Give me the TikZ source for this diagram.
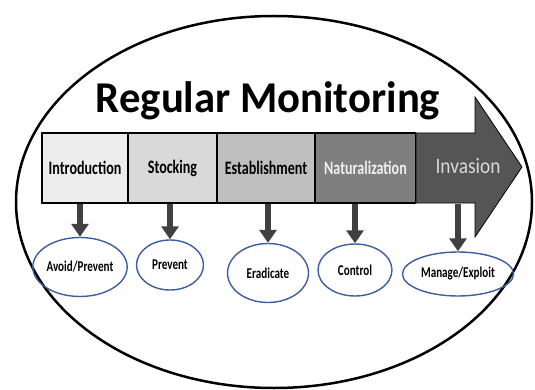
\documentclass[tikz,border=0pt]{standalone}
\usepackage{graphicx}
\usepackage{fontspec}
\setmainfont{Carlito}
\usepackage{tikz}
\usetikzlibrary{shapes.geometric}
\usetikzlibrary{arrows.meta}
\definecolor{introgray}{HTML}{EDEDED}
\definecolor{stockgray}{HTML}{D9D9D9}
\definecolor{estabgray}{HTML}{BFBFBF}
\definecolor{naturgray}{HTML}{7F7F7F}
\definecolor{invasgray}{HTML}{555555}
\definecolor{actblue}{HTML}{3C5E9E}
\definecolor{arrowgray}{HTML}{404040}
\newcommand{\nar}[1]{\scalebox{0.74}[1]{#1}}
\tikzset{
  stage/.style={draw=black,line width=1.2pt,minimum height=70pt,inner sep=0pt,
    font=\bfseries\fontsize{19}{19}\selectfont},
  action/.style={ellipse,draw=actblue,line width=1.4pt,inner sep=0pt,
    font=\bfseries\fontsize{15}{15}\selectfont},
  downarrow/.style={-{Triangle[width=17pt,length=13pt]},line width=6pt,draw=arrowgray},
}

\begin{document}
\begin{tikzpicture}[x=1pt,y=-1pt]
    \useasboundingbox (0,0) rectangle (535,390);
    \node[draw,ellipse,line width=2.5pt,minimum width=516pt,minimum height=372pt] (frame) at (274,202) {};
    \node[font=\bfseries\fontsize{44}{44}\selectfont,anchor=base,xscale=0.97] (title) at (268,113) {Regular Monitoring};
    % big arrow behind the stages
    \draw[fill=invasgray,line width=0.8pt] (416,133) -- (475,133) -- (475,97) -- (522,167)
      -- (475,237) -- (475,203) -- (416,203) -- cycle;
    \node[stage,fill=introgray,minimum width=86pt] (intro) at (85,168) {\nar{Introduction}};
    \node[stage,fill=stockgray,minimum width=89pt] (stock) at (172.5,168) {\nar{Stocking}};
    \node[stage,fill=estabgray,minimum width=98pt] (estab) at (266,168) {\nar{Establishment}};
    \node[stage,fill=naturgray,minimum width=100pt,text=white!94!black] (natur) at (365.5,168) {\nar{Naturalization}};
    \node[font=\fontsize{22}{22}\selectfont,text=stockgray] (invas) at (468,166) {\scalebox{0.88}[1]{Invasion}};
    \node[action,minimum width=76pt,minimum height=59pt] (avoid) at (80,267) {\nar{Avoid/Prevent}};
    \node[action,minimum width=67pt,minimum height=50pt] (prevent) at (170,265) {\nar{Prevent}};
    \node[action,minimum width=81pt,minimum height=59pt] (eradicate) at (268,273) {\nar{Eradicate}};
    \node[action,minimum width=74pt,minimum height=52pt] (control) at (355,270) {\nar{Control}};
    \node[action,minimum width=111pt,minimum height=44pt] (manage) at (458,274) {\nar{Manage/Exploit}};
    \draw[downarrow] (intro.south -| avoid.north) -- (avoid.north);
    \draw[downarrow] (stock.south -| prevent.north) -- (prevent.north);
    \draw[downarrow] (estab.south -| eradicate.north) -- (eradicate.north);
    \draw[downarrow] (natur.south -| control.north) -- (control.north);
    \draw[downarrow] (natur.south -| manage.north) -- (manage.north);
\end{tikzpicture}
\end{document}
